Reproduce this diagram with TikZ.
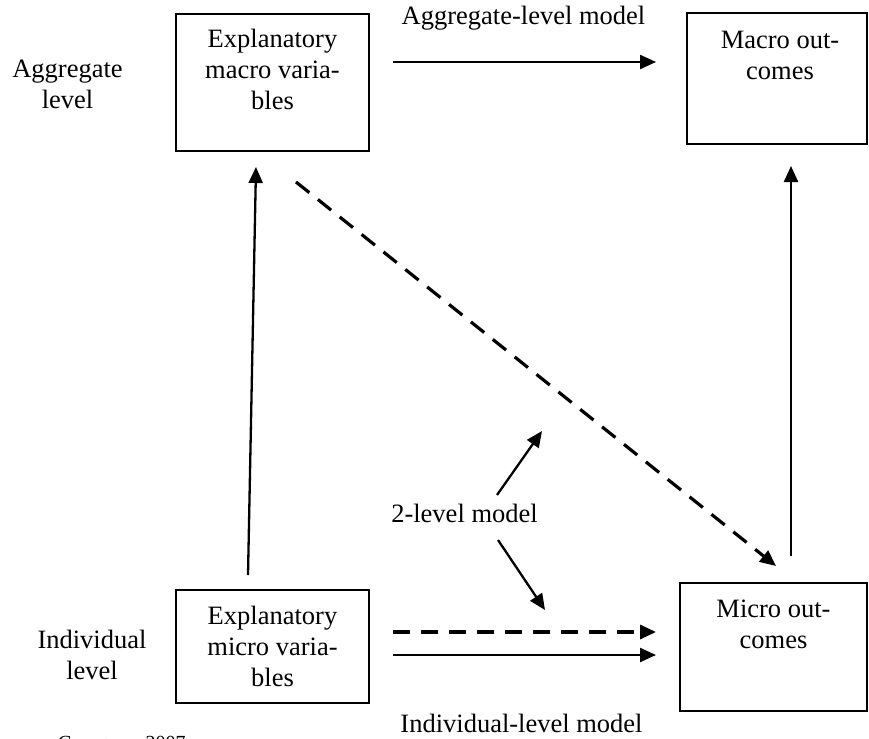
\documentclass[tikz,border=0pt]{standalone}
\usepackage{fontspec}
\setmainfont{Liberation Serif}
\usetikzlibrary{arrows.meta,positioning,calc}

\tikzset{
  box/.style={draw, rectangle, line width=1.6pt, inner sep=0pt},
  boxtext/.style={align=center, inner sep=0pt, anchor=north, font=\fontsize{26.5}{31}\selectfont},
  lbl/.style={align=center, inner sep=0pt, font=\fontsize{26.5}{31}\selectfont},
  link/.style={->, line width=2.3pt},
  dashlink/.style={->, line width=3.2pt, dash pattern=on 17pt off 11pt},
  >={Triangle[length=16pt,width=14pt]}
}

\begin{document}
\begin{tikzpicture}[x=1pt, y=-1pt]
\useasboundingbox (0,0) rectangle (869,738);
\clip (0,0) rectangle (869,738);

% Kaesten
\node[box, minimum width=193pt, minimum height=137pt] (macrovar) at (272.5,82.5) {};
\node[box, minimum width=180pt, minimum height=131pt] (macroout) at (777,78.5) {};
\node[box, minimum width=193pt, minimum height=113pt] (microvar) at (272.5,646.5) {};
\node[box, minimum width=187pt, minimum height=128pt] (microout) at (773.5,647) {};

\node[boxtext] (macrovartext) at ([yshift=-16pt]macrovar.north) {Explanatory\\macro varia-\\bles};
\node[boxtext] (macroouttext) at ([xshift=3pt,yshift=-19pt]macroout.north) {Macro out-\\comes};
\node[boxtext] (microvartext) at ([yshift=-17pt]microvar.north) {Explanatory\\micro varia-\\bles};
\node[boxtext] (microouttext) at ([yshift=-18pt]microout.north) {Micro out-\\comes};

% Ebenen
\node[lbl] (agglevel) at (67.5,84) {Aggregate\\level};
\node[lbl] (indlevel) at (92,655) {Individual\\level};

% Modelle
\node[lbl, anchor=base] (aggmodel) at (523.5,25) {Aggregate-level model};
\node[lbl, anchor=base] (indmodel) at (521.5,732) {Individual-level model};
\node[lbl, anchor=base] (twolevel) at (464.5,522) {2-level model};

% Quelle
\node[anchor=base west, inner sep=0pt, font=\fontsize{20}{24}\selectfont] (source) at (58,749) {Courgeau, 2007};

% Pfeile
\coordinate (aggstart) at (393,62);
\coordinate (aggend) at (656,62);
\coordinate (upLstart) at (248,575);
\coordinate (upLend) at (256,167);
\coordinate (upRstart) at (791,556);
\coordinate (upRend) at (791,166);
\coordinate (diagstart) at (296,182);
\coordinate (diagend) at (776,566);
\coordinate (twoupstart) at (497,495);
\coordinate (twoupend) at (542,431);
\coordinate (twodownstart) at (498,540);
\coordinate (twodownend) at (545,610);
\coordinate (inddashstart) at (393,632);
\coordinate (inddashend) at (656,632);
\coordinate (indstart) at (393,655);
\coordinate (indend) at (656,655);

\draw[link] (aggstart) -- (aggend);
\draw[link] (upLstart) -- (upLend);
\draw[link] (upRstart) -- (upRend);
\draw[dashlink] (diagstart) -- (diagend);
\draw[link] (twoupstart) -- (twoupend);
\draw[link] (twodownstart) -- (twodownend);
\draw[dashlink] (inddashstart) -- (inddashend);
\draw[link] (indstart) -- (indend);
\end{tikzpicture}
\end{document}
